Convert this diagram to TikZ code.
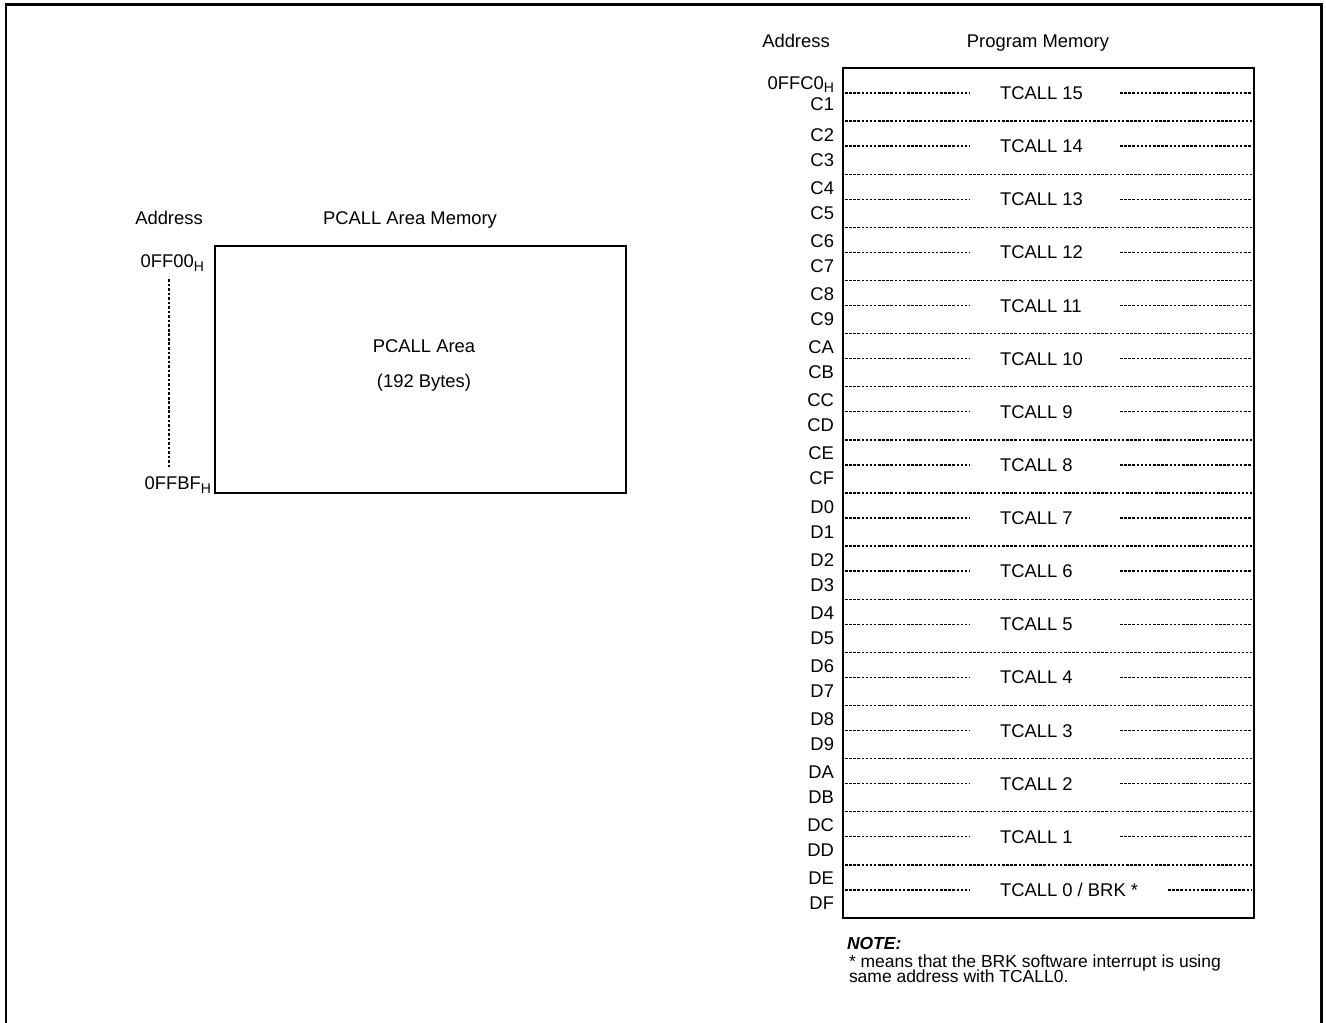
\documentclass[tikz,border=0pt]{standalone}
\usepackage{fontspec}
\setmainfont{Liberation Sans}
\newcommand{\hsub}{\raisebox{-0.35ex}{\fontsize{10.5}{10}\selectfont H}}
\begin{document}
\begin{tikzpicture}[x=0.75pt,y=-0.75pt,
  every node/.style={font={\fontsize{13.8}{16}\selectfont}, inner sep=0pt, outer sep=0pt},
  notefont/.style={font={\fontsize{13.1}{15}\selectfont}},
  frameline/.style={line width=1.7pt},
  membox/.style={draw, line width=1.5pt, rectangle},
  sepline/.style={line width=1.05pt, dash pattern=on 1.9pt off 1.2pt},
  vdots/.style={line width=1.5pt, dash pattern=on 2pt off 1.4pt},
  addr/.style={anchor=base east},
  lbl/.style={anchor=base west},
  ctr/.style={anchor=base}]
\useasboundingbox (0,0) rectangle (1326,1023);

% outer frame
\coordinate (f1) at (6,1023);
\coordinate (f2) at (6,4.5);
\coordinate (f3) at (1321.5,4.5);
\coordinate (f4) at (1321.5,1023);
\draw[frameline] (f1) -- (f2) -- (f3) -- (f4);

% ---------- left: PCALL area ----------
\node[ctr] (laddr) at (169,224.6) {Address};
\node[ctr] (lhead) at (410,224.6) {PCALL Area Memory};
\node[membox, minimum width=308.25pt, minimum height=185.25pt] (pcall) at (420.5,369.5) {};
\node[ctr] (pcalltxt) at (424,352.6) {PCALL Area};
\node[ctr] (pcallsz) at (424,387.6) {(192 Bytes)};
\node[addr] (ff00) at (204,267.6) {0FF00\hsub};
\node[addr] (ffbf) at (211,489.6) {0FFBF\hsub};
\coordinate (vd1) at (169,279);
\coordinate (vd2) at (169,467);
\draw[vdots] (vd1) -- (vd2);

% ---------- right: program memory ----------
\node[ctr] (raddr) at (796,47.6) {Address};
\node[ctr] (rhead) at (1038,47.6) {Program Memory};
\node[membox, minimum width=308.25pt, minimum height=637.5pt] (pm) at (1048.5,493) {};

% row 0 address labels
\node[addr] (a0a) at (834,89.5) {0FFC0\hsub};
\node[addr] (a0b) at (834,110.5) {C1};

% separators and address labels
\foreach \i/\a/\b in {1/C2/C3,2/C4/C5,3/C6/C7,4/C8/C9,5/CA/CB,6/CC/CD,7/CE/CF,
                      8/D0/D1,9/D2/D3,10/D4/D5,11/D6/D7,12/D8/D9,13/DA/DB,14/DC/DD,15/DE/DF} {
  \pgfmathsetmacro\t{68+\i*53.125}
  \coordinate (s\i-w) at (845,\t);
  \coordinate (s\i-e) at (1252,\t);
  \draw[sepline] (s\i-w) -- (s\i-e);
  \node[addr] (a\i a) at (834,\t+20) {\a};
  \node[addr] (a\i b) at (834,\t+45) {\b};
}

% TCALL labels with side dashes
\foreach \i in {0,...,14} {
  \pgfmathsetmacro\t{68+\i*53.125}
  \pgfmathtruncatemacro\n{15-\i}
  \node[lbl] (t\i) at (1000,\t+31.5) {TCALL \n};
  \coordinate (l\i-a) at (845,\t+25);
  \coordinate (l\i-b) at (970,\t+25);
  \coordinate (r\i-a) at (1120,\t+25);
  \coordinate (r\i-b) at (1252,\t+25);
  \draw[sepline] (l\i-a) -- (l\i-b);
  \draw[sepline] (r\i-a) -- (r\i-b);
}
\pgfmathsetmacro\t{68+15*53.125}
\node[lbl] (t15) at (1000,\t+31.5) {TCALL 0 / BRK *};
\coordinate (l15-a) at (845,\t+25);
\coordinate (l15-b) at (970,\t+25);
\coordinate (r15-a) at (1168,\t+25);
\coordinate (r15-b) at (1252,\t+25);
\draw[sepline] (l15-a) -- (l15-b);
\draw[sepline] (r15-a) -- (r15-b);

% note
\node[lbl, notefont] (note) at (847,949.5) {\bfseries\itshape NOTE:};
\node[lbl, notefont] (note1) at (849,967.5) {* means that the BRK software interrupt is using};
\node[lbl, notefont] (note2) at (849,982.5) {same address with TCALL0.};
\end{tikzpicture}
\end{document}
